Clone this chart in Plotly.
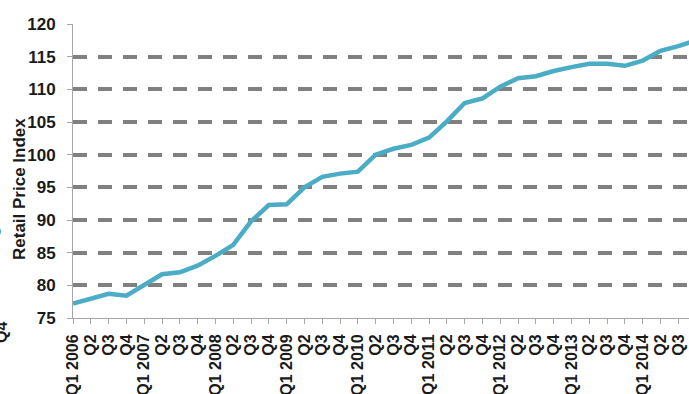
import plotly.graph_objects as go

# Quarterly Retail Price Index, Q1 2006 - Q4 2014
years = [2006, 2007, 2008, 2009, 2010, 2011, 2012, 2013, 2014]
quarter_names = ["Q1", "Q2", "Q3", "Q4"]
quarter_labels = [f"Q1 {y}" if q == "Q1" else q for y in years for q in quarter_names]

rpi = [77.2, 78.0, 78.7, 78.4,
       80.0, 81.7, 82.0, 83.0,
       84.5, 86.2, 89.8, 92.3,
       92.4, 95.0, 96.6, 97.1,
       97.4, 100.0, 100.9, 101.5,
       102.6, 105.1, 107.9, 108.6,
       110.4, 111.7, 112.0, 112.8,
       113.4, 113.9, 113.9, 113.6,
       114.4, 115.9, 116.6, 117.5]

y_ticks = [75, 80, 85, 90, 95, 100, 105, 110, 115, 120]
grid_ticks = y_ticks[1:]

idx = list(range(len(rpi)))
FONT = "Liberation Sans, Arial, sans-serif"
AXIS_GREY = "#a6a6a6"
LINE_TEAL = "#4bacc6"

# plot-area geometry in pixels, used to place the free-standing texts
PLOT_L, PLOT_W, PLOT_B, PLOT_H = 73, 616, 318, 294


def px_x(px):
    return (px - PLOT_L) / PLOT_W


def px_y(py):
    return (PLOT_B - py) / PLOT_H


fig = go.Figure()
fig.add_trace(go.Scatter(
    x=idx, y=rpi, mode="lines",
    line=dict(color=LINE_TEAL, width=4.5),
    hoverinfo="skip", showlegend=False,
))
# invisible trace to carry the dashed grid axis
fig.add_trace(go.Scatter(x=[idx[0]], y=[rpi[0]], yaxis="y2", mode="markers",
                         marker=dict(opacity=0), hoverinfo="skip", showlegend=False))

fig.update_layout(
    width=689, height=394,
    margin=dict(l=PLOT_L, r=0, t=PLOT_B - PLOT_H, b=394 - PLOT_B, autoexpand=False),
    paper_bgcolor="white", plot_bgcolor="white",
    font=dict(family=FONT, color="#1a1a1a"),
    xaxis=dict(
        range=[0, 34.6], automargin=False,
        tickmode="array", tickvals=idx, ticktext=quarter_labels,
        tickangle=-90,
        tickfont=dict(size=16, weight="bold", color="#1a1a1a"),
        ticks="outside", ticklen=5, tickcolor=AXIS_GREY, tickwidth=1,
        ticklabelstandoff=4,
        showline=True, linecolor=AXIS_GREY, linewidth=1,
        showgrid=False, zeroline=False,
    ),
    yaxis=dict(
        range=[75, 120], automargin=False,
        tickmode="array", tickvals=y_ticks,
        tickfont=dict(size=17, weight="bold", color="#1a1a1a"),
        ticks="outside", ticklen=5, tickcolor=AXIS_GREY, tickwidth=1,
        ticklabelstandoff=8,
        showline=True, linecolor=AXIS_GREY, linewidth=1,
        showgrid=False, zeroline=False,
    ),
    yaxis2=dict(
        range=[75, 120], overlaying="y", side="left", automargin=False,
        tickmode="array", tickvals=grid_ticks,
        showticklabels=False, ticks="",
        showgrid=True, gridcolor="#808080", gridwidth=3.5, griddash="14px,11px",
        zeroline=False, showline=False, layer="below traces",
    ),
    annotations=[
        dict(text="<b>Retail Price Index</b>", xref="paper", yref="paper",
             x=px_x(19), y=px_y(189), textangle=-90,
             showarrow=False, font=dict(size=17, color="#1a1a1a", family=FONT),
             xanchor="center", yanchor="middle"),
        dict(text="<b>Q4</b>", xref="paper", yref="paper",
             x=px_x(1), y=px_y(333), textangle=-90,
             showarrow=False, font=dict(size=16, color="#1a1a1a", family=FONT),
             xanchor="center", yanchor="middle"),
    ],
    shapes=[
        dict(type="circle", xref="paper", yref="paper",
             x0=px_x(-10), x1=px_x(1), y0=px_y(237), y1=px_y(226),
             fillcolor=LINE_TEAL, line=dict(width=0), layer="above"),
    ],
)

fig.write_html("out.html")
